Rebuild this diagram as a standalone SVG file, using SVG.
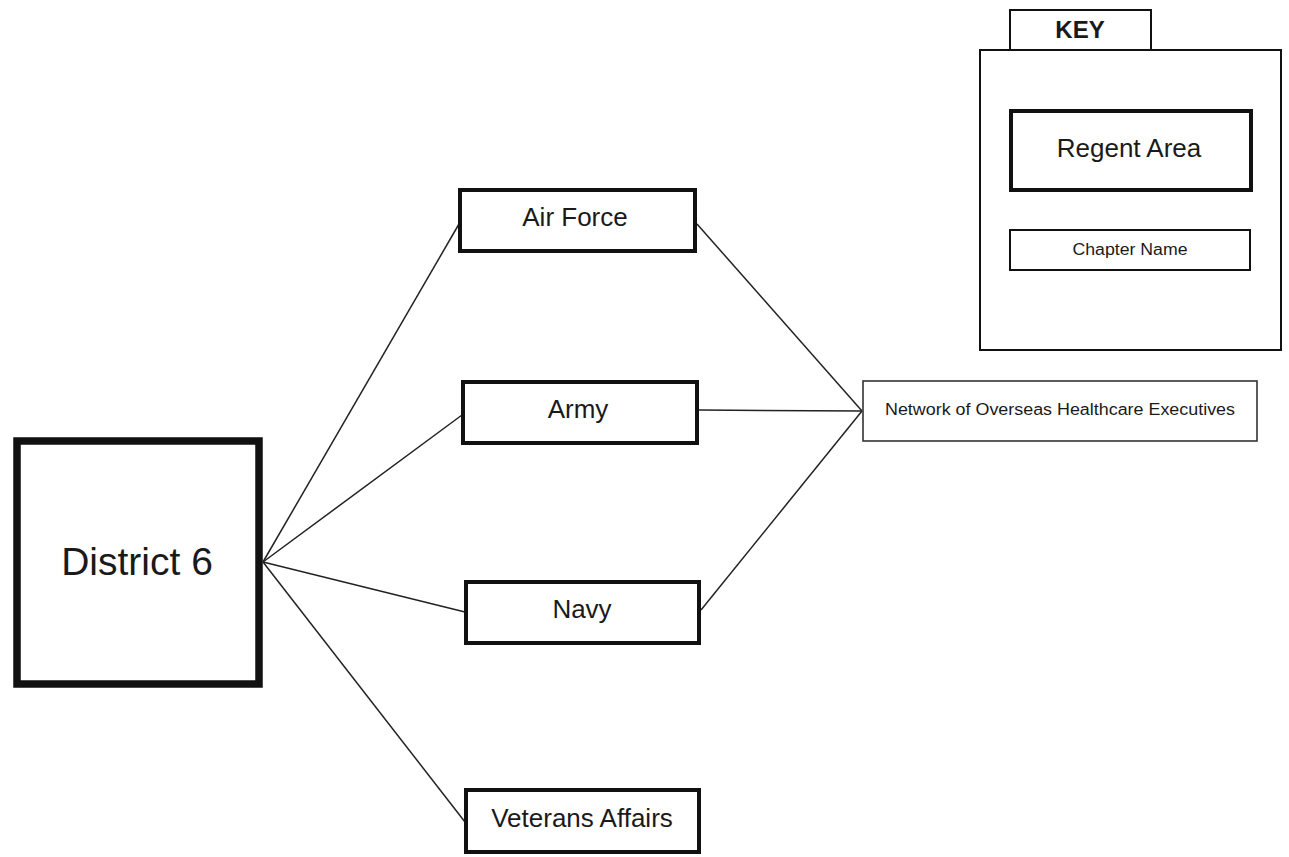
<svg xmlns="http://www.w3.org/2000/svg" width="1289" height="857" viewBox="0 0 1289 857">
<style>
.bx{fill:#fff;stroke:#111;}
.thick{stroke-width:4;}
.thin{stroke-width:1.6;stroke:#333;}
.t{font-family:"Liberation Sans",Arial,sans-serif;fill:#1a1a1a;text-anchor:middle;dominant-baseline:central;}
.m{font-size:26px;}
.ln{stroke:#222;stroke-width:1.5;fill:none;}
</style>
<rect width="1289" height="857" fill="#fff"/>
<g id="connectors">
<line class="ln" x1="263" y1="562" x2="459" y2="224"/>
<line class="ln" x1="263" y1="562" x2="462" y2="415"/>
<line class="ln" x1="263" y1="562" x2="465" y2="612"/>
<line class="ln" x1="263" y1="562" x2="465" y2="822"/>
<line class="ln" x1="697" y1="224" x2="862" y2="411"/>
<line class="ln" x1="699" y1="410" x2="862" y2="411"/>
<line class="ln" x1="701" y1="610" x2="862" y2="411"/>
</g>
<g id="district6">
<rect class="bx" x="17" y="441" width="242" height="243" stroke-width="7.5"/>
<text class="t" x="137" y="561" font-size="39">District 6</text>
</g>
<g id="airforce">
<rect class="bx thick" x="460" y="190" width="235" height="61"/>
<text class="t m" x="575" y="217">Air Force</text>
</g>
<g id="army">
<rect class="bx thick" x="463" y="382" width="234" height="61"/>
<text class="t m" x="578" y="409">Army</text>
</g>
<g id="navy">
<rect class="bx thick" x="466" y="582" width="233" height="61"/>
<text class="t m" x="582" y="609">Navy</text>
</g>
<g id="veterans">
<rect class="bx thick" x="466" y="790" width="233" height="62"/>
<text class="t m" x="582" y="818">Veterans Affairs</text>
</g>
<g id="network">
<rect class="bx thin" x="863" y="381" width="394" height="60"/>
<text class="t" x="1060" y="409" font-size="16" textLength="350" lengthAdjust="spacingAndGlyphs">Network of Overseas Healthcare Executives</text>
</g>
<g id="key">
<rect class="bx" x="1010" y="10" width="141" height="40" stroke="#444" stroke-width="2"/>
<text class="t" x="1080" y="29" font-size="24" font-weight="bold">KEY</text>
<rect class="bx" x="980" y="50" width="301" height="300" stroke="#555" stroke-width="2"/>
<rect class="bx thick" x="1011" y="111" width="240" height="79"/>
<text class="t" x="1129" y="148" font-size="26">Regent Area</text>
<rect class="bx" x="1010" y="230" width="240" height="40" stroke="#555" stroke-width="2"/>
<text class="t" x="1130" y="249" font-size="16" textLength="115" lengthAdjust="spacingAndGlyphs">Chapter Name</text>
</g>
</svg>
